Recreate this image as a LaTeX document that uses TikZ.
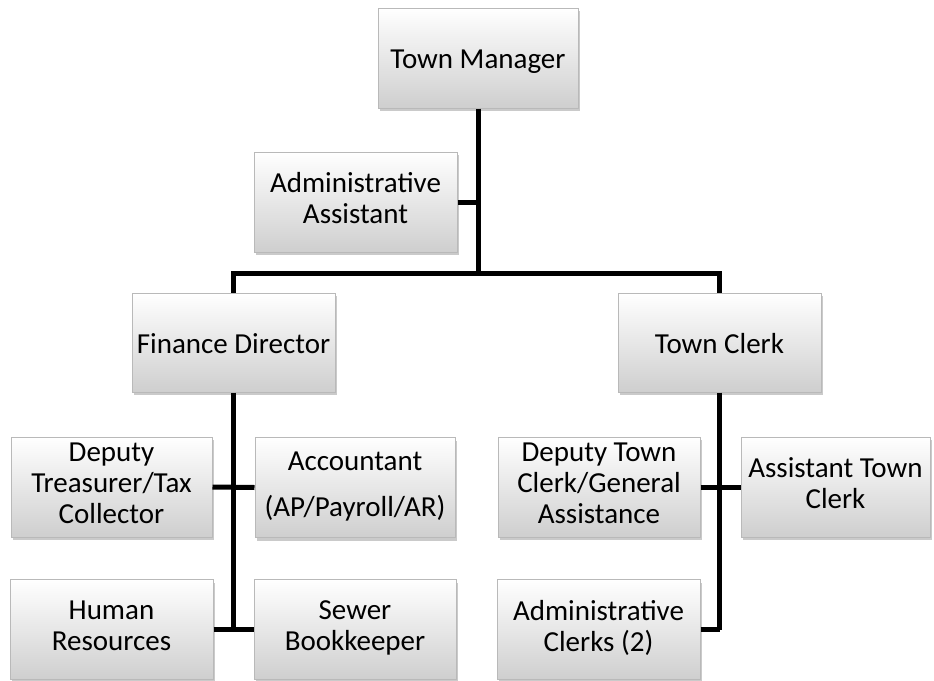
\documentclass[tikz,border=0pt]{standalone}
\usepackage{fontspec}
\setmainfont{Carlito}
\usetikzlibrary{shadows}

% struts that keep the capitals centred in every box
\newcommand{\topstrut}{\rule{0pt}{14.5pt}}
\newcommand{\botstrut}{\rule[-3.8pt]{0pt}{3.8pt}}

\begin{document}
\begin{tikzpicture}[x=0.5pt, y=-0.5pt,
    box/.style={draw=gray!55, line width=0.5pt, top color=white, bottom color=gray!38,
      minimum width=#1, minimum height=50pt, inner sep=1pt, align=center,
      font=\fontsize{14.5}{15.5}\selectfont,
      execute at begin node=\topstrut, execute at end node=\botstrut,
      drop shadow={shadow xshift=0.8pt, shadow yshift=-1.6pt, opacity=0.35, fill=gray!80!black}},
    box/.default=100.5pt,
    link/.style={line width=2.5pt, black}]
    \useasboundingbox (0,0) rectangle (934,681);
    % boxes
    \node[box=100pt] (tm) at (478,58) {Town Manager};
    \node[box=101.5pt] (aa) at (355.5,202) {Administrative\\Assistant};
    \node[box=101.5pt, minimum height=49.5pt] (fd) at (233.5,342.5) {Finance Director};
    \node[box=101.5pt, minimum height=49.5pt] (tc) at (719.5,342.5) {Town Clerk};
    \node[box=100.5pt] (dt) at (111.5,487) {Deputy\\Treasurer/Tax\\Collector};
    \node[box=100pt] (ac) at (355,487.5) {Accountant\\[7.5pt](AP/Payroll/AR)};
    \node[box=101.5pt] (hr) at (111.5,629.5) {Human\\Resources};
    \node[box=101pt] (sb) at (355,629.5) {Sewer\\Bookkeeper};
    \node[box=101pt] (dc) at (599,487) {Deputy Town\\Clerk/General\\Assistance};
    \node[box=94.5pt] (at) at (835.5,487) {Assistant Town\\Clerk};
    \node[box=101.5pt] (ak) at (598.5,629.5) {Administrative\\Clerks (2)};
    \coordinate (trunk) at (tm.south |- 0,273);
    % connectors
    \draw[link] (tm.south) -- (trunk);
    \draw[link] (aa.east) -- (aa.east -| trunk);
    \draw[link] (fd.north) -- (fd.north |- trunk) -- (tc.north |- trunk) -- (tc.north);
    \draw[link] (fd.south) -- (fd.south |- hr.east);
    \draw[link] (dt.east) -- (ac.west);
    \draw[link] (hr.east) -- (sb.west);
    \draw[link] (tc.south) -- (tc.south |- ak.east);
    \draw[link] (dc.east) -- (at.west);
    \draw[link] (ak.east) -- (ak.east -| tc.south);
\end{tikzpicture}
\end{document}
